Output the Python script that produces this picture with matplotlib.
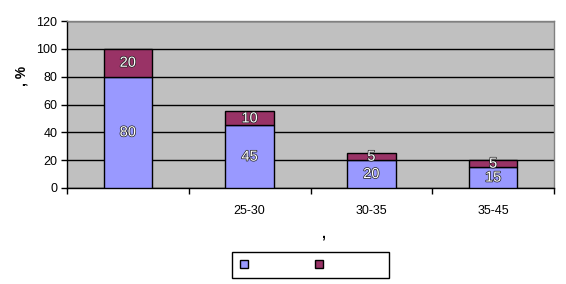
import matplotlib
matplotlib.use("Agg")
import matplotlib.pyplot as plt
import matplotlib.patheffects as pe
from matplotlib.patches import Patch
import numpy as np

categories = ["", "25-30", "30-35", "35-45"]
series_a = [80, 45, 20, 15]
series_b = [20, 10, 5, 5]
yticks = [0, 20, 40, 60, 80, 100, 120]

plt.rcParams['font.family'] = ['Liberation Sans', 'DejaVu Sans']

fig = plt.figure(figsize=(5.66, 2.84), dpi=100)
ax = fig.add_axes([67/566, 1-188/284, (554-67)/566, (188-21)/284])
ax.set_facecolor('#C0C0C0')

x = np.arange(len(categories))
w = 0.4
c1, c2 = '#9999FF', '#993366'
ax.bar(x, series_a, w, color=c1, edgecolor='black', linewidth=1, zorder=3)
ax.bar(x, series_b, w, bottom=series_a, color=c2, edgecolor='black', linewidth=1, zorder=3)

eff = [pe.withStroke(linewidth=1.0, foreground='#202020')]
for i in range(len(categories)):
    ax.text(x[i], series_a[i]/2, str(series_a[i]), ha='center', va='center',
            fontsize=10.5, color='white', path_effects=eff, zorder=4)
    ax.text(x[i], series_a[i] + series_b[i]/2, str(series_b[i]), ha='center', va='center',
            fontsize=10.5, color='white', path_effects=eff, zorder=4)

ax.set_ylim(0, 120)
ax.set_yticks(yticks)
ax.set_xlim(-0.5, len(categories)-0.5)
ax.set_xticks(np.arange(len(categories)+1) - 0.5)
ax.set_xticklabels([])
ax.set_xticks(x, minor=True)
ax.set_xticklabels(categories, minor=True)
ax.tick_params(axis='x', which='major', direction='out', length=4, width=1, color='black')
ax.tick_params(axis='x', which='minor', length=0, pad=12, labelsize=9)
ax.tick_params(axis='y', direction='out', length=4, width=1, labelsize=9, pad=3)

ax.yaxis.grid(True, color='black', linewidth=1, zorder=0)
ax.set_axisbelow(True)
for s in ['left', 'bottom']:
    ax.spines[s].set_color('black')
    ax.spines[s].set_linewidth(1)
for s in ['top', 'right']:
    ax.spines[s].set_color('#808080')
    ax.spines[s].set_linewidth(1)

fig.text(323/566, 1-233/284, ",", ha='center', va='center', fontsize=10, fontweight='bold')
fig.text(22/566, 1-76/284, ", %", ha='center', va='center', fontsize=10, fontweight='bold', rotation=90)

handles = [Patch(facecolor=c1, edgecolor='black', linewidth=1),
           Patch(facecolor=c2, edgecolor='black', linewidth=1)]
leg = fig.legend(handles, ["", ""], loc='center', bbox_to_anchor=(310.5/566, 1-265/284),
                 ncol=2, fontsize=8, handlelength=0.72, handleheight=0.72,
                 handletextpad=5.3, columnspacing=0.72, borderpad=0.7,
                 fancybox=False, framealpha=1, edgecolor='black')
leg.get_frame().set_linewidth(1)

fig.savefig("out.png", dpi=100)
